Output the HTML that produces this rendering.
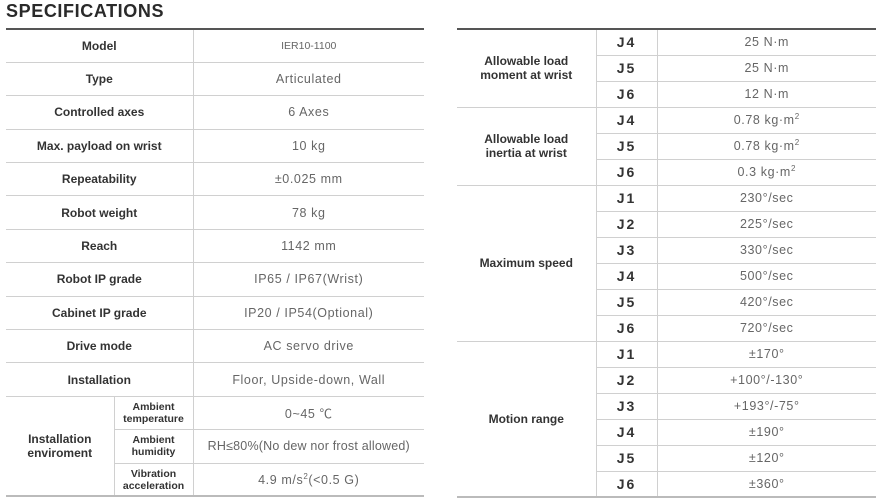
<!DOCTYPE html>
<html><head><meta charset="utf-8"><style>
body{margin:0;width:879px;height:503px;background:#fff;position:relative;overflow:hidden;font-family:"Liberation Sans","Noto Sans CJK SC",sans-serif}
h1{position:absolute;left:6px;top:1px;margin:0;font-size:18px;font-weight:900;color:#2a2a2a;letter-spacing:0.6px}
table{position:absolute;border-collapse:collapse;table-layout:fixed;border-top:2px solid #555;border-bottom:2px solid #bbb}
td{border-bottom:1.5px solid #d0d0d0;text-align:center;vertical-align:middle;padding:0;overflow:hidden}
td.l{font-weight:bold;color:#333;font-size:12px;border-right:1.5px solid #d0d0d0}
td.s{font-size:10.5px;line-height:12px}
td.v{color:#666;font-size:12.5px;letter-spacing:0.6px}
td.j{font-weight:bold;color:#333;font-size:14px;letter-spacing:2px;border-right:1.5px solid #d0d0d0}
#L{left:6px;top:28px;width:418px}
#L tr{height:33.4px}
#R{left:457px;top:28px;width:419px}
#R tr{height:26px}
sup{font-size:8px;line-height:0}
</style></head><body>
<h1>SPECIFICATIONS</h1>
<table id="L">
<colgroup><col style="width:108px"><col style="width:79px"><col></colgroup>
<tr><td class="l" colspan="2">Model</td><td class="v" style="font-size:10.5px;letter-spacing:0">IER10-1100</td></tr>
<tr><td class="l" colspan="2">Type</td><td class="v">Articulated</td></tr>
<tr><td class="l" colspan="2">Controlled axes</td><td class="v">6 Axes</td></tr>
<tr><td class="l" colspan="2">Max. payload on wrist</td><td class="v">10 kg</td></tr>
<tr><td class="l" colspan="2">Repeatability</td><td class="v">±0.025 mm</td></tr>
<tr><td class="l" colspan="2">Robot weight</td><td class="v">78 kg</td></tr>
<tr><td class="l" colspan="2">Reach</td><td class="v">1142 mm</td></tr>
<tr><td class="l" colspan="2">Robot IP grade</td><td class="v">IP65 / IP67(Wrist)</td></tr>
<tr><td class="l" colspan="2">Cabinet IP grade</td><td class="v">IP20 / IP54(Optional)</td></tr>
<tr><td class="l" colspan="2">Drive mode</td><td class="v">AC servo drive</td></tr>
<tr><td class="l" colspan="2">Installation</td><td class="v">Floor, Upside-down, Wall</td></tr>
<tr><td class="l" rowspan="3">Installation<br>enviroment</td><td class="l s">Ambient<br>temperature</td><td class="v">0~45 ℃</td></tr>
<tr><td class="l s">Ambient<br>humidity</td><td class="v" style="letter-spacing:0.2px">RH≤80%(No dew nor frost allowed)</td></tr>
<tr><td class="l s">Vibration<br>acceleration</td><td class="v">4.9 m/s<sup>2</sup>(&lt;0.5 G)</td></tr>
</table>
<table id="R">
<colgroup><col style="width:139px"><col style="width:61px"><col></colgroup>
<tr><td class="l" rowspan="3">Allowable load<br>moment at wrist</td><td class="j">J4</td><td class="v">25 N·m</td></tr>
<tr><td class="j">J5</td><td class="v">25 N·m</td></tr>
<tr><td class="j">J6</td><td class="v">12 N·m</td></tr>
<tr><td class="l" rowspan="3">Allowable load<br>inertia at wrist</td><td class="j">J4</td><td class="v">0.78 kg·m<sup>2</sup></td></tr>
<tr><td class="j">J5</td><td class="v">0.78 kg·m<sup>2</sup></td></tr>
<tr><td class="j">J6</td><td class="v">0.3 kg·m<sup>2</sup></td></tr>
<tr><td class="l" rowspan="6">Maximum speed</td><td class="j">J1</td><td class="v">230°/sec</td></tr>
<tr><td class="j">J2</td><td class="v">225°/sec</td></tr>
<tr><td class="j">J3</td><td class="v">330°/sec</td></tr>
<tr><td class="j">J4</td><td class="v">500°/sec</td></tr>
<tr><td class="j">J5</td><td class="v">420°/sec</td></tr>
<tr><td class="j">J6</td><td class="v">720°/sec</td></tr>
<tr><td class="l" rowspan="6">Motion range</td><td class="j">J1</td><td class="v">±170°</td></tr>
<tr><td class="j">J2</td><td class="v">+100°/-130°</td></tr>
<tr><td class="j">J3</td><td class="v">+193°/-75°</td></tr>
<tr><td class="j">J4</td><td class="v">±190°</td></tr>
<tr><td class="j">J5</td><td class="v">±120°</td></tr>
<tr><td class="j">J6</td><td class="v">±360°</td></tr>
</table>
</body></html>
